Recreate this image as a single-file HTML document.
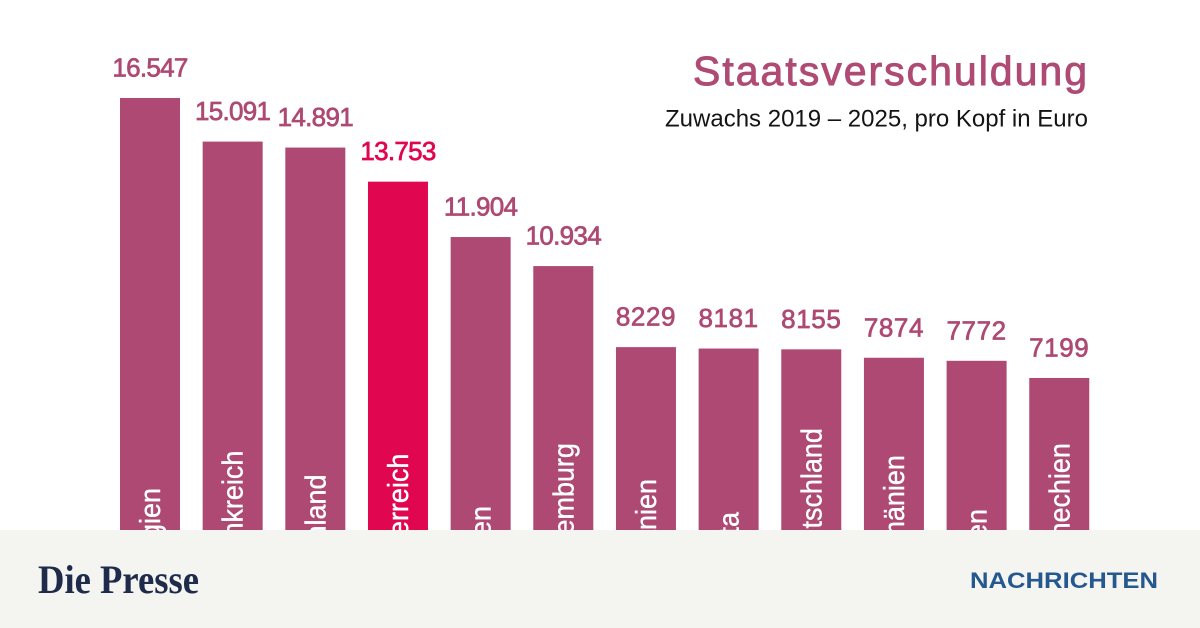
<!DOCTYPE html>
<html lang="de">
<head>
<meta charset="utf-8">
<title>Staatsverschuldung</title>
<style>
html,body{margin:0;padding:0;background:#fff;width:1200px;height:628px;overflow:hidden}
svg{display:block;font-family:"Liberation Sans",sans-serif}
</style>
</head>
<body>
<svg id="chart" width="1200" height="628" viewBox="0 0 1200 628" xmlns="http://www.w3.org/2000/svg">
  <rect x="0" y="0" width="1200" height="628" fill="#ffffff"/>
  <g id="bars"></g>
  <g id="values"></g>
  <g id="cats"></g>
  <text x="1087" y="85" text-anchor="end" font-size="41" fill="#ae4a74" stroke="#ae4a74" stroke-width="0.9" textLength="394" lengthAdjust="spacing">Staatsverschuldung</text>
  <text x="1088" y="126.5" text-anchor="end" font-size="24.5" fill="#141414" textLength="423" lengthAdjust="spacingAndGlyphs">Zuwachs 2019 – 2025, pro Kopf in Euro</text>
  <rect x="0" y="530" width="1200" height="98" fill="#f4f4f0"/>
  <text x="38" y="593" font-family="'Liberation Serif',serif" font-weight="700" font-size="40" fill="#1f2b4a" textLength="161" lengthAdjust="spacingAndGlyphs">Die Presse</text>
  <text x="970" y="588" font-weight="700" font-size="22.5" fill="#25588f" textLength="188" lengthAdjust="spacingAndGlyphs">NACHRICHTEN</text>
</svg>
<script>
const categories = ["Belgien","Frankreich","Finnland","Österreich","Italien","Luxemburg","Spanien","Malta","Deutschland","Rumänien","Polen","Tschechien"];
const values = [16547,15091,14891,13753,11904,10934,8229,8181,8155,7874,7772,7199];
const highlighted = ["Österreich"];

const NS = "http://www.w3.org/2000/svg";
const barColor = "#ad4973";
const highlightColor = "#e0064f";
const barWidth = 60;
function xScale(i){ return 120 + i * 82.66; }
function yScale(v){ return 593.6 - v * 0.029953; }
function formatValue(v){
  const s = String(Math.round(v));
  return v >= 10000 ? s.slice(0, -3) + "." + s.slice(-3) : s;
}
function make(tag, attrs, parent){
  const el = document.createElementNS(NS, tag);
  for (const k in attrs) el.setAttribute(k, attrs[k]);
  parent.appendChild(el);
  return el;
}
const barsG = document.getElementById("bars");
const valuesG = document.getElementById("values");
const catsG = document.getElementById("cats");
categories.forEach(function(cat, i){
  const v = values[i];
  const color = highlighted.includes(cat) ? highlightColor : barColor;
  const x = xScale(i), y = yScale(v), cx = x + barWidth / 2;

  const bar = make("rect", {x: x, y: y, width: barWidth, height: 593.6 - y, fill: color}, barsG);
  
  

  const val = make("text", {x: cx, y: y - 21.5, "text-anchor": "middle", "font-size": 26, "letter-spacing": v >= 10000 ? -0.7 : 0.6, fill: color, stroke: color, "stroke-width": 0.7}, valuesG);
  
  
  val.textContent = formatValue(v);

  const lab = make("text", {transform: "translate(" + (cx + 10) + " 578) rotate(-90) scale(0.93 1)", "font-size": 29, fill: "#ffffff", stroke: "#ffffff", "stroke-width": 0.4}, catsG);
  
  
  lab.textContent = cat;
});
</script>
</body>
</html>
